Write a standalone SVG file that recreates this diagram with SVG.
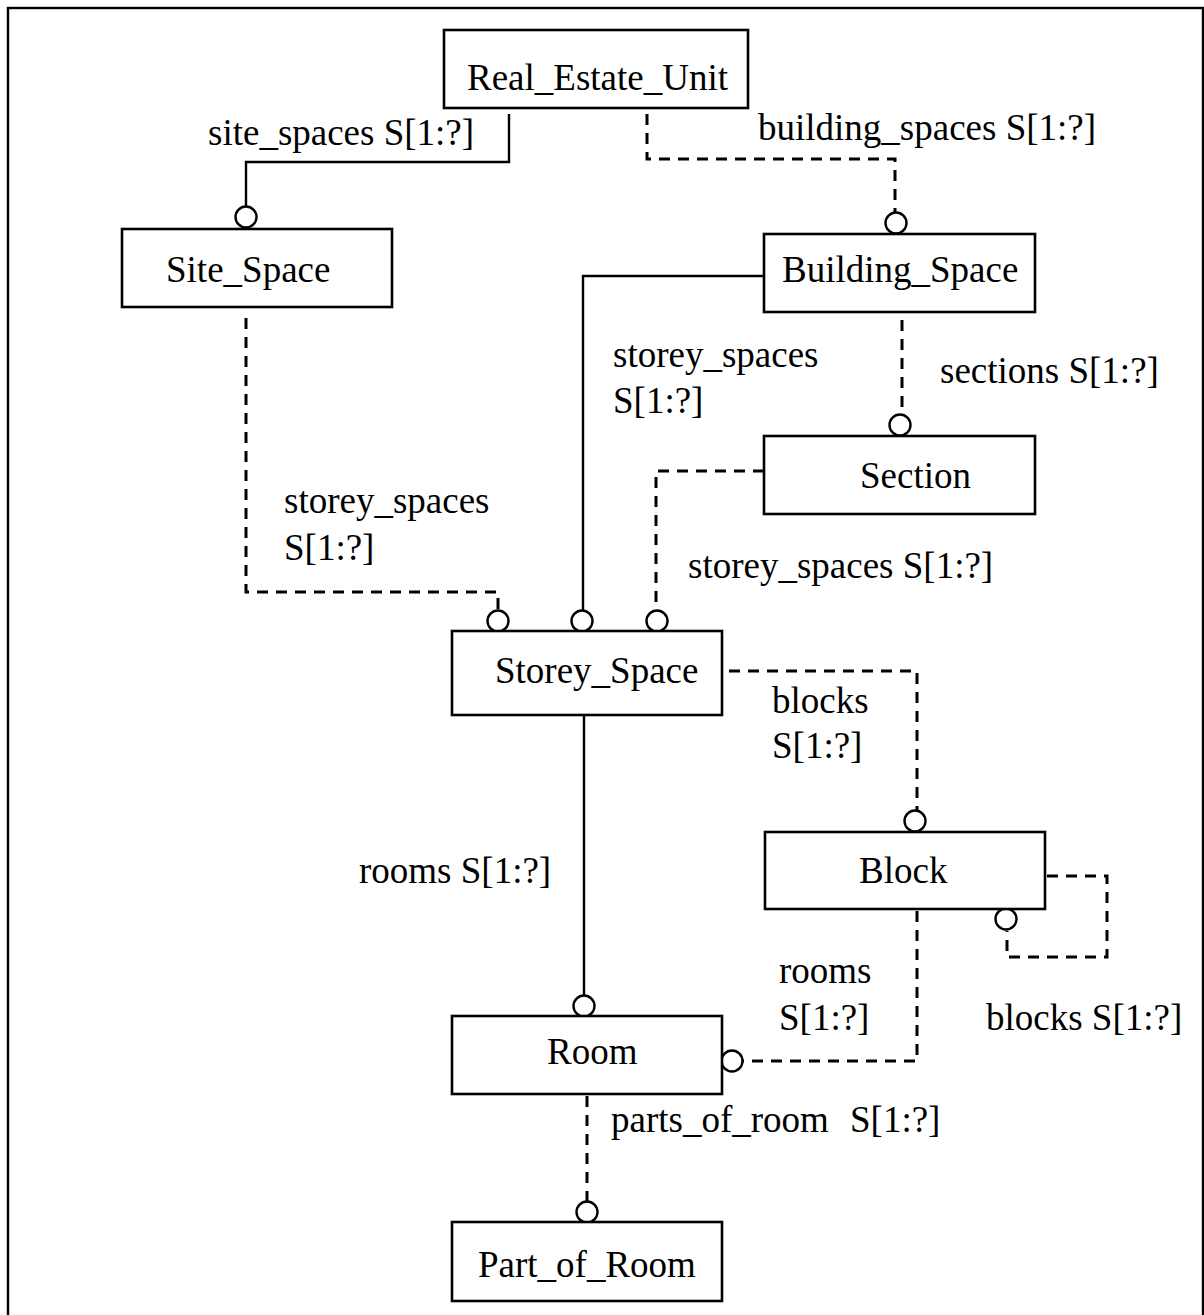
<svg xmlns="http://www.w3.org/2000/svg" width="1204" height="1315" viewBox="0 0 1204 1315">
<style>
text{font-family:"Liberation Serif","Times New Roman",serif;font-size:37px;fill:#000}
.box{fill:#fff;stroke:#000;stroke-width:2.6}
.ln{fill:none;stroke:#000;stroke-width:2.4}
.dash{fill:none;stroke:#000;stroke-width:3;stroke-dasharray:11 8}
.end{fill:#fff;stroke:#000;stroke-width:2.4}
</style>
<rect x="0" y="0" width="1204" height="1315" fill="#fff"/>
<rect x="8" y="8" width="1195" height="1330" fill="none" stroke="#000" stroke-width="2.4"/>
<g id="connectors">
  <polyline class="ln" points="509,114 509,162 246,162 246,206"/>
  <circle class="end" cx="246" cy="217" r="10.5"/>
  <polyline class="dash" points="647,114 647,159 895,159 895,212"/>
  <circle class="end" cx="896" cy="223" r="10.5"/>
  <polyline class="ln" points="764,276 583,276 583,610"/>
  <circle class="end" cx="582" cy="621" r="10.5"/>
  <polyline class="dash" points="902,320 902,414"/>
  <circle class="end" cx="900" cy="425" r="10.5"/>
  <polyline class="dash" points="764,471 656,471 656,610"/>
  <circle class="end" cx="657" cy="621" r="10.5"/>
  <polyline class="dash" points="246,318 246,592 498,592 498,610"/>
  <circle class="end" cx="498" cy="621" r="10.5"/>
  <polyline class="dash" points="729,671 917,671 917,810"/>
  <circle class="end" cx="915" cy="821" r="10.5"/>
  <polyline class="ln" points="584,715 584,995"/>
  <circle class="end" cx="584" cy="1006" r="10.5"/>
  <polyline class="dash" points="1047,876 1107,876 1107,957 1007,957 1007,931"/>
  <circle class="end" cx="1006" cy="919" r="10.5"/>
  <polyline class="dash" points="917,911 917,1061 743,1061"/>
  <circle class="end" cx="732" cy="1061" r="10.5"/>
  <polyline class="dash" points="587,1096 587,1201"/>
  <circle class="end" cx="587" cy="1212" r="10.5"/>
  <text x="208" y="145">site_spaces S[1:?]</text>
  <text x="758" y="140">building_spaces S[1:?]</text>
  <text x="613" y="367">storey_spaces</text>
  <text x="613" y="413">S[1:?]</text>
  <text x="940" y="383">sections S[1:?]</text>
  <text x="284" y="513">storey_spaces</text>
  <text x="284" y="560">S[1:?]</text>
  <text x="688" y="578">storey_spaces S[1:?]</text>
  <text x="772" y="713">blocks</text>
  <text x="772" y="758">S[1:?]</text>
  <text x="359" y="883">rooms S[1:?]</text>
  <text x="779" y="983">rooms</text>
  <text x="779" y="1030">S[1:?]</text>
  <text x="986" y="1030">blocks S[1:?]</text>
  <text x="611" y="1132">parts_of_room</text>
  <text x="850" y="1132">S[1:?]</text>
</g>
<g id="real_estate_unit"><rect class="box" x="444" y="30" width="304" height="78"/><text x="467" y="90">Real_Estate_Unit</text></g>
<g id="site_space"><rect class="box" x="122" y="229" width="270" height="78"/><text x="166" y="282">Site_Space</text></g>
<g id="building_space"><rect class="box" x="764" y="234" width="271" height="78"/><text x="782" y="282">Building_Space</text></g>
<g id="section"><rect class="box" x="764" y="436" width="271" height="78"/><text x="860" y="488">Section</text></g>
<g id="storey_space"><rect class="box" x="452" y="631" width="270" height="84"/><text x="495" y="683">Storey_Space</text></g>
<g id="block"><rect class="box" x="765" y="832" width="280" height="77"/><text x="859" y="883">Block</text></g>
<g id="room"><rect class="box" x="452" y="1016" width="270" height="78"/><text x="547" y="1064">Room</text></g>
<g id="part_of_room"><rect class="box" x="452" y="1222" width="270" height="79"/><text x="478" y="1277">Part_of_Room</text></g>
</svg>
